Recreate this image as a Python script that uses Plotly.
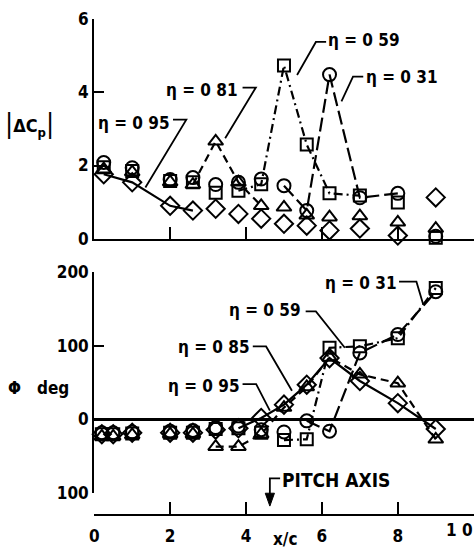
import plotly.graph_objects as go

# ---------------- data ----------------
X_TOP = [0.025, 0.1, 0.2, 0.26, 0.32, 0.38, 0.44, 0.5, 0.56, 0.62, 0.7, 0.8, 0.9]
CP_031 = [2.08, 1.94, 1.62, 1.67, 1.48, 1.54, 1.63, 1.45, 0.77, 4.48, 1.12, 1.24, 0.07]
CP_059 = [1.95, 1.85, 1.58, 1.54, 1.26, 1.31, 1.49, 4.73, 2.57, 1.24, 1.18, 0.99, 0.03]
CP_081 = [1.90, 1.82, 1.55, 1.48, 2.66, 1.54, 0.90, 0.86, 0.64, 0.59, 0.62, 0.45, 0.28]
CP_095 = [1.76, 1.54, 0.90, 0.77, 0.82, 0.68, 0.55, 0.41, 0.36, 0.23, 0.28, 0.09, 1.13]

X_BOT = [0.02, 0.05, 0.1, 0.2, 0.26, 0.32, 0.38, 0.44, 0.5, 0.56, 0.62, 0.7, 0.8, 0.9]
PHI_031 = [-18, -18, -17, -16, -15, -11, -9, -14, -17, -2, -16, 90, 115, 173]
PHI_059 = [-20, -20, -19, -18, -18, -13, -12, -18, -28, -27, 97, 99, 110, 178]
PHI_085 = [-23, -23, -21, -20, -20, -37, -37, -20, 16, 44, 84, 61, 49, -27]
PHI_095 = [-20, -20, -18, -18, -18, -14, -12, 2, 20, 47, 83, 52, 22, -13]

X_TICKS = [0, 0.2, 0.4, 0.6, 0.8]
X_TICKTEXT = ["0", "2", "4", "6", "8"]
X_END_TICK = [1.0]
X_END_TEXT = "1 0"
CP_TICKS = [0, 2, 4, 6]
CP_TICKTEXT = ["0", "2", "4", "6"]
PHI_TICKS = [-100, 0, 100, 200]
PHI_TICKTEXT = ["100", "0", "100", "200"]

FONT = "DejaVu Sans Condensed, Liberation Sans Narrow, Arial Narrow, Liberation Sans, sans-serif"

SYM = {"c": "circle-open", "s": "square-open", "t": "triangle-up-open", "d": "diamond-open"}
SIZE = {"c": 13, "s": 12, "t": 13, "d": 14}
DASH = {"c": "14px,5px", "s": "9px,4px,2px,4px", "t": "8px,5px", "d": "solid"}

top_series = [("c", CP_031, (7, 11)), ("s", CP_059, (5, 10)), ("t", CP_081, (3, 6)), ("d", CP_095, (0, 3))]
bot_series = [("c", PHI_031, (9, 13)), ("s", PHI_059, (8, 13)), ("t", PHI_085, (5, 13)), ("d", PHI_095, (6, 13))]

fig = go.Figure()

def add_series(xs, series, xa, ya):
    for key, ys, (i0, i1) in series:
        fig.add_trace(go.Scatter(
            x=xs[i0:i1 + 1], y=ys[i0:i1 + 1], mode="lines", xaxis=xa, yaxis=ya,
            line=dict(color="black", width=2.2, dash=DASH[key]), showlegend=False, hoverinfo="skip"))
    for key, ys, _ in series:
        fig.add_trace(go.Scatter(
            x=xs, y=ys, mode="markers", xaxis=xa, yaxis=ya,
            marker=dict(symbol=SYM[key], size=SIZE[key], color="black", line=dict(width=2)),
            showlegend=False, cliponaxis=False))

add_series(X_TOP, top_series, "x", "y")
add_series(X_BOT, bot_series, "x2", "y2")

# Layout positions are given in picture pixels and mapped to figure pixels,
# allowing for the page's 8px body margin and the resulting fit-to-window scale.
W, H = 475.0, 556.0
PAD = 8.0
SX, SY = W / (W + 2 * PAD), H / (H + 2 * PAD)

def fx(x):
    return x / SX - PAD

def fy(y):
    return y / SY - PAD

def px(x):
    return fx(x) / W

def py(y):
    return 1 - fy(y) / H

X0PX, XSCALE = 95.0, 371.0
XR = [0, 1.002]
XDOM = [px(X0PX), min(px(X0PX + XSCALE * XR[1]), 0.999)]

TF = dict(family=FONT, size=17, color="black", weight="bold")

axis_common = dict(showline=True, linecolor="black", linewidth=2.2, showgrid=False, zeroline=False,
                   ticks="inside", tickcolor="black", tickwidth=2, tickfont=TF)
end_tick = dict(tickvals=X_END_TICK, ticks="inside", ticklen=12, tickwidth=2, tickcolor="black", showgrid=False)

fig.update_layout(
    width=W, height=H, autosize=False,
    margin=dict(l=0, r=0, t=0, b=0),
    paper_bgcolor="white", plot_bgcolor="rgba(0,0,0,0)",
    font=dict(family=FONT, size=16, color="black"),
    xaxis=dict(domain=XDOM, range=XR, anchor="y", tickvals=X_TICKS, showticklabels=False,
               ticklen=12, minor=end_tick, **axis_common),
    yaxis=dict(domain=[py(238.5), py(16.7)], range=[0, 6], anchor="x",
               tickvals=CP_TICKS, ticktext=CP_TICKTEXT, ticklen=10, **axis_common),
    xaxis2=dict(domain=XDOM, range=XR, anchor="free", position=py(516.7),
                tickvals=X_TICKS, ticktext=X_TICKTEXT, ticklen=12, ticklabelstandoff=6,
                minor=end_tick, **axis_common),
    yaxis2=dict(domain=[py(495), py(271.7)], range=[-100, 200], anchor="x2",
                tickvals=PHI_TICKS, ticktext=PHI_TICKTEXT, ticklen=10, **axis_common),
)
fig.update_layout(yaxis2=dict(zeroline=True, zerolinecolor="black", zerolinewidth=2.5))

ann = []
shapes = []

def label(text, x, y, anchor, size=17, bold=True):
    ann.append(dict(text=text, x=px(x), y=py(y), xref="paper", yref="paper", showarrow=False,
                    xanchor=anchor, yanchor="middle", borderpad=0,
                    font=dict(family=FONT, size=size, color="black", weight="bold" if bold else "normal")))

def leader(pts):
    path = "M " + " L ".join(f"{px(a)},{py(b)}" for a, b in pts)
    shapes.append(dict(type="path", path=path, xref="paper", yref="paper",
                       line=dict(color="black", width=1.8)))

# end tick label of the x axis (kept inside the page)
ann.append(dict(text=X_END_TEXT, x=474 / W, y=py(532), xref="paper", yref="paper", showarrow=False,
                xanchor="right", yanchor="middle", borderpad=0, font=TF))

# top labels
label("η = 0 95", 170, 122, "right")
leader([(172, 118.3), (185, 118.3), (145, 186.7)])
label("η = 0 81", 237, 88, "right")
leader([(240, 86), (253, 86), (223, 137)])
label("η = 0 59", 323, 38, "left")
leader([(321.7, 40), (311.7, 40), (293.3, 73.3)])
label("η = 0 31", 360, 75, "left")
leader([(358, 75), (348, 75), (336.7, 100)])

# bottom labels
label("η = 0 31", 392, 283, "right")
leader([(393, 281.7), (410, 281.7), (416.7, 305)])
label("η = 0 59", 298, 310, "right")
leader([(301.7, 311.7), (311.7, 311.7), (340, 348.3)])
label("η = 0 85", 248, 348, "right")
leader([(250, 347), (263, 347), (288.3, 391.7)])
label("η = 0 95", 238, 387, "right")
leader([(240, 385), (253.3, 385), (266.7, 411.7)])

# pitch axis marker
label("PITCH AXIS", 278, 482, "left", size=19)
AXP = 266.7
leader([(AXP + 10, 480), (AXP, 480), (AXP, 497)])
shapes.append(dict(type="path", xref="paper", yref="paper",
                   path=f"M {px(AXP - 4.5)},{py(495)} L {px(AXP + 4.5)},{py(495)} L {px(AXP)},{py(508)} Z",
                   fillcolor="black", line=dict(color="black", width=1)))

# axis titles
BAR = "<span style='font-size:27px;font-weight:normal'>|</span>"
label(BAR + "ΔC<span style='font-size:13px;baseline-shift:-5px'>p</span>" + BAR, 32, 122, "center", size=18)
label("Φ   deg", 10, 389, "left")
ann.append(dict(text="x/c", x=px(282), y=1 - 549 / H, xref="paper", yref="paper", showarrow=False,
                xanchor="center", yanchor="middle", borderpad=0, font=TF))

fig.update_layout(annotations=ann, shapes=shapes)
fig.write_html("out.html")
